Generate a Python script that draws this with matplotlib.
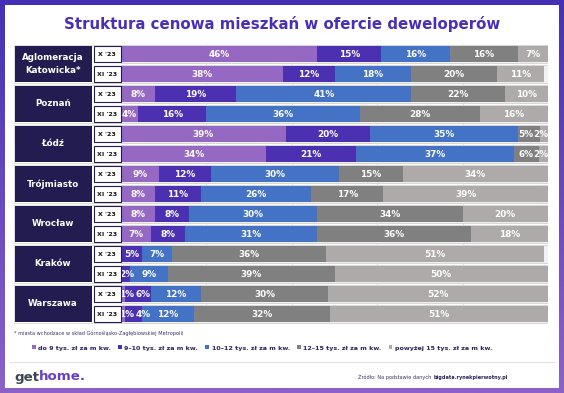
import numpy as np
import matplotlib
matplotlib.use("Agg")
import matplotlib.pyplot as plt
from matplotlib.patches import Rectangle

# ---------------- data ----------------
cities = ["Aglomeracja\nKatowicka*", "Poznań", "Łódź", "Trójmiasto", "Wrocław", "Kraków", "Warszawa"]
periods = ["X '23", "XI '23"]
series_names = ["do 9 tys. zł za m kw.", "9–10 tys. zł za m kw.", "10–12 tys. zł za m kw.",
                "12–15 tys. zł za m kw.", "powyżej 15 tys. zł za m kw."]
# rows: city X'23, city XI'23 ...
do9   = [46, 38, 8, 4, 39, 34, 9, 8, 8, 7, 0, 0, 1, 1]
s9_10 = [15, 12, 19, 16, 20, 21, 12, 11, 8, 8, 5, 2, 6, 4]
s10_12 = [16, 18, 41, 36, 35, 37, 30, 26, 30, 31, 7, 9, 12, 12]
s12_15 = [16, 20, 22, 28, 5, 6, 15, 17, 34, 36, 36, 39, 30, 32]
pow15 = [7, 11, 10, 16, 2, 2, 34, 39, 20, 18, 51, 50, 52, 51]
colors = ["#9468c3", "#4b31b1", "#4472c4", "#808080", "#aeaaaa"]

series = [do9, s9_10, s10_12, s12_15, pow15]
vals = np.array(series, dtype=float)          # 5 x 14
totals = vals.sum(axis=0)
scaled = vals / np.maximum(totals, 100) * 100

W, H = 564, 393
fig = plt.figure(figsize=(W / 100, H / 100), dpi=100)

# background gradient frame
bg = fig.add_axes([0, 0, 1, 1])
top = np.array([0x45, 0x30, 0xb5]) / 255
bot = np.array([0x8c, 0x62, 0xc8]) / 255
t = np.linspace(0, 1, 256)[:, None]
grad = top[None, :] * (1 - t) + bot[None, :] * t
bg.imshow(grad[:, None, :].repeat(2, axis=1), aspect="auto", extent=[0, W, H, 0])
bg.add_patch(Rectangle((5, 5), W - 10, 383, facecolor="white", edgecolor="none"))
bg.plot([10, 555], [362, 362], color="#e2e2e2", lw=0.8)
bg.set_xlim(0, W)
bg.set_ylim(H, 0)
bg.axis("off")

NAVY = "#231c50"
# main axes: px x 14..548, y 44..324
ax = fig.add_axes([14 / W, 1 - 324 / H, 534 / W, 280 / H])
x0 = -107 / 4.27
ax.set_xlim(x0, 100)
ax.set_ylim(13.5, -0.5)
ax.axis("off")

ys = np.arange(14)
# grid lines
for gx in [20, 40, 60, 80]:
    ax.axvline(gx, color="#e4e4e4", lw=0.7, zorder=0)

# group frames
for g in range(len(cities)):
    ax.add_patch(Rectangle((x0 + 0.05, 2 * g - 0.47), 100 - x0 - 0.1, 1.94,
                           facecolor="none", edgecolor="#dcdcdc", lw=0.7, zorder=0.5))
# row background
ax.barh(ys, 100, height=0.86, left=0, color="#f1f1f1", edgecolor="#d2d2d2", lw=0.6, zorder=1)

left = np.zeros(14)
handles = []
row_labels = [[] for _ in range(14)]
for k in range(5):
    b = ax.barh(ys, scaled[k], left=left, height=0.8, color=colors[k], lw=0, zorder=2,
                label=series_names[k])
    handles.append(b)
    for i in range(14):
        v = vals[k, i]
        if v > 0:
            cx = left[i] + scaled[k, i] / 2
            tx = ax.text(cx, ys[i] + 0.03, f"{int(v)}%", color="white", fontsize=6.4,
                         fontweight="bold", ha="center", va="center", zorder=3)
            row_labels[i].append(tx)
    left = left + scaled[k]

# nudge crowded labels so they do not overlap and stay within the bar
fig.canvas.draw()
inv = ax.transData.inverted()
px_left = ax.transData.transform((0, 0))[0] - 1.5
px_right = ax.transData.transform((100, 0))[0] + 0.5


def shift_px(tx, d):
    xd, yd = tx.get_position()
    px, py = ax.transData.transform((xd, yd))
    nx, _ = inv.transform((px + d, py))
    tx.set_x(nx)


for i in range(14):
    labs = row_labels[i]
    prev_x1 = px_left
    for tx in labs:
        bb = tx.get_window_extent()
        gap = 1.0 if prev_x1 != px_left else 0.0
        if bb.x0 < prev_x1 + gap:
            shift_px(tx, prev_x1 + gap - bb.x0)
            bb = tx.get_window_extent()
        prev_x1 = bb.x1
    next_x0 = px_right
    for tx in reversed(labs):
        bb = tx.get_window_extent()
        if bb.x1 > next_x0:
            shift_px(tx, next_x0 - bb.x1)
            bb = tx.get_window_extent()
        next_x0 = bb.x0

# city boxes and date boxes
gx0 = x0
gx1 = (92 - 121) / 4.27
for g, name in enumerate(cities):
    ax.add_patch(Rectangle((gx0 + 0.15, 2 * g - 0.42), gx1 - gx0 - 0.15, 1.84,
                           facecolor=NAVY, edgecolor="none", zorder=4))
    ax.text((gx0 + gx1) / 2, 2 * g + 0.5, name, color="white", fontsize=6.3, fontweight="bold",
            ha="center", va="center", linespacing=1.6, zorder=5)
    for r in range(2):
        y = 2 * g + r
        dx0 = (93.5 - 121) / 4.27
        dx1 = (120.5 - 121) / 4.27
        ax.add_patch(Rectangle((dx0, y - 0.4), dx1 - dx0, 0.8, facecolor="white",
                               edgecolor=NAVY, lw=0.8, zorder=4))
        ax.text((dx0 + dx1) / 2, y + 0.03, periods[r], color="#111111", fontsize=4.5,
                fontweight="bold", ha="center", va="center", zorder=5)

# title
fig.text(282 / W, 1 - 24 / H, "Struktura cenowa mieszkań w ofercie deweloperów",
         color="#4a30b8", fontsize=10.8, fontweight="bold", ha="center", va="center")

# footnote
fig.text(14 / W, 1 - 333 / H, "* miasta wchodzace w skład Górnośląsko-Zagłębiowskiej Metropolii",
         color="#3a3366", fontsize=3.6, ha="left", va="center")

# legend
leg = fig.legend(handles=handles, loc="center", bbox_to_anchor=(262 / W, 1 - 348 / H), ncol=5,
                 frameon=False, fontsize=4.6, handlelength=0.6, handleheight=0.6,
                 handletextpad=0.4, columnspacing=1.1, borderaxespad=0, borderpad=0)
for txt in leg.get_texts():
    txt.set_color("#2b2358")
    txt.set_fontweight("bold")

# logo
t1 = fig.text(14 / W, 1 - 377 / H, "get", color="#3b4650", fontsize=9.6, fontweight="bold",
              ha="left", va="center")
fig.canvas.draw()
bb = t1.get_window_extent()
fig.text(bb.x1 / W, 1 - 377 / H, "home.", color="#6a3ec4", fontsize=9.6, fontweight="bold",
         ha="left", va="center")

# source
t2 = fig.text(508 / W, 1 - 377 / H, "bigdata.rynekpierwotny.pl", color="#2b2358",
              fontsize=3.6, fontweight="bold", ha="right", va="center")
fig.canvas.draw()
bb2 = t2.get_window_extent()
fig.text(bb2.x0 / W, 1 - 377 / H, "Źródło: Na podstawie danych ", color="#3a3366",
         fontsize=3.6, ha="right", va="center")

fig.savefig("out.png", dpi=100)
